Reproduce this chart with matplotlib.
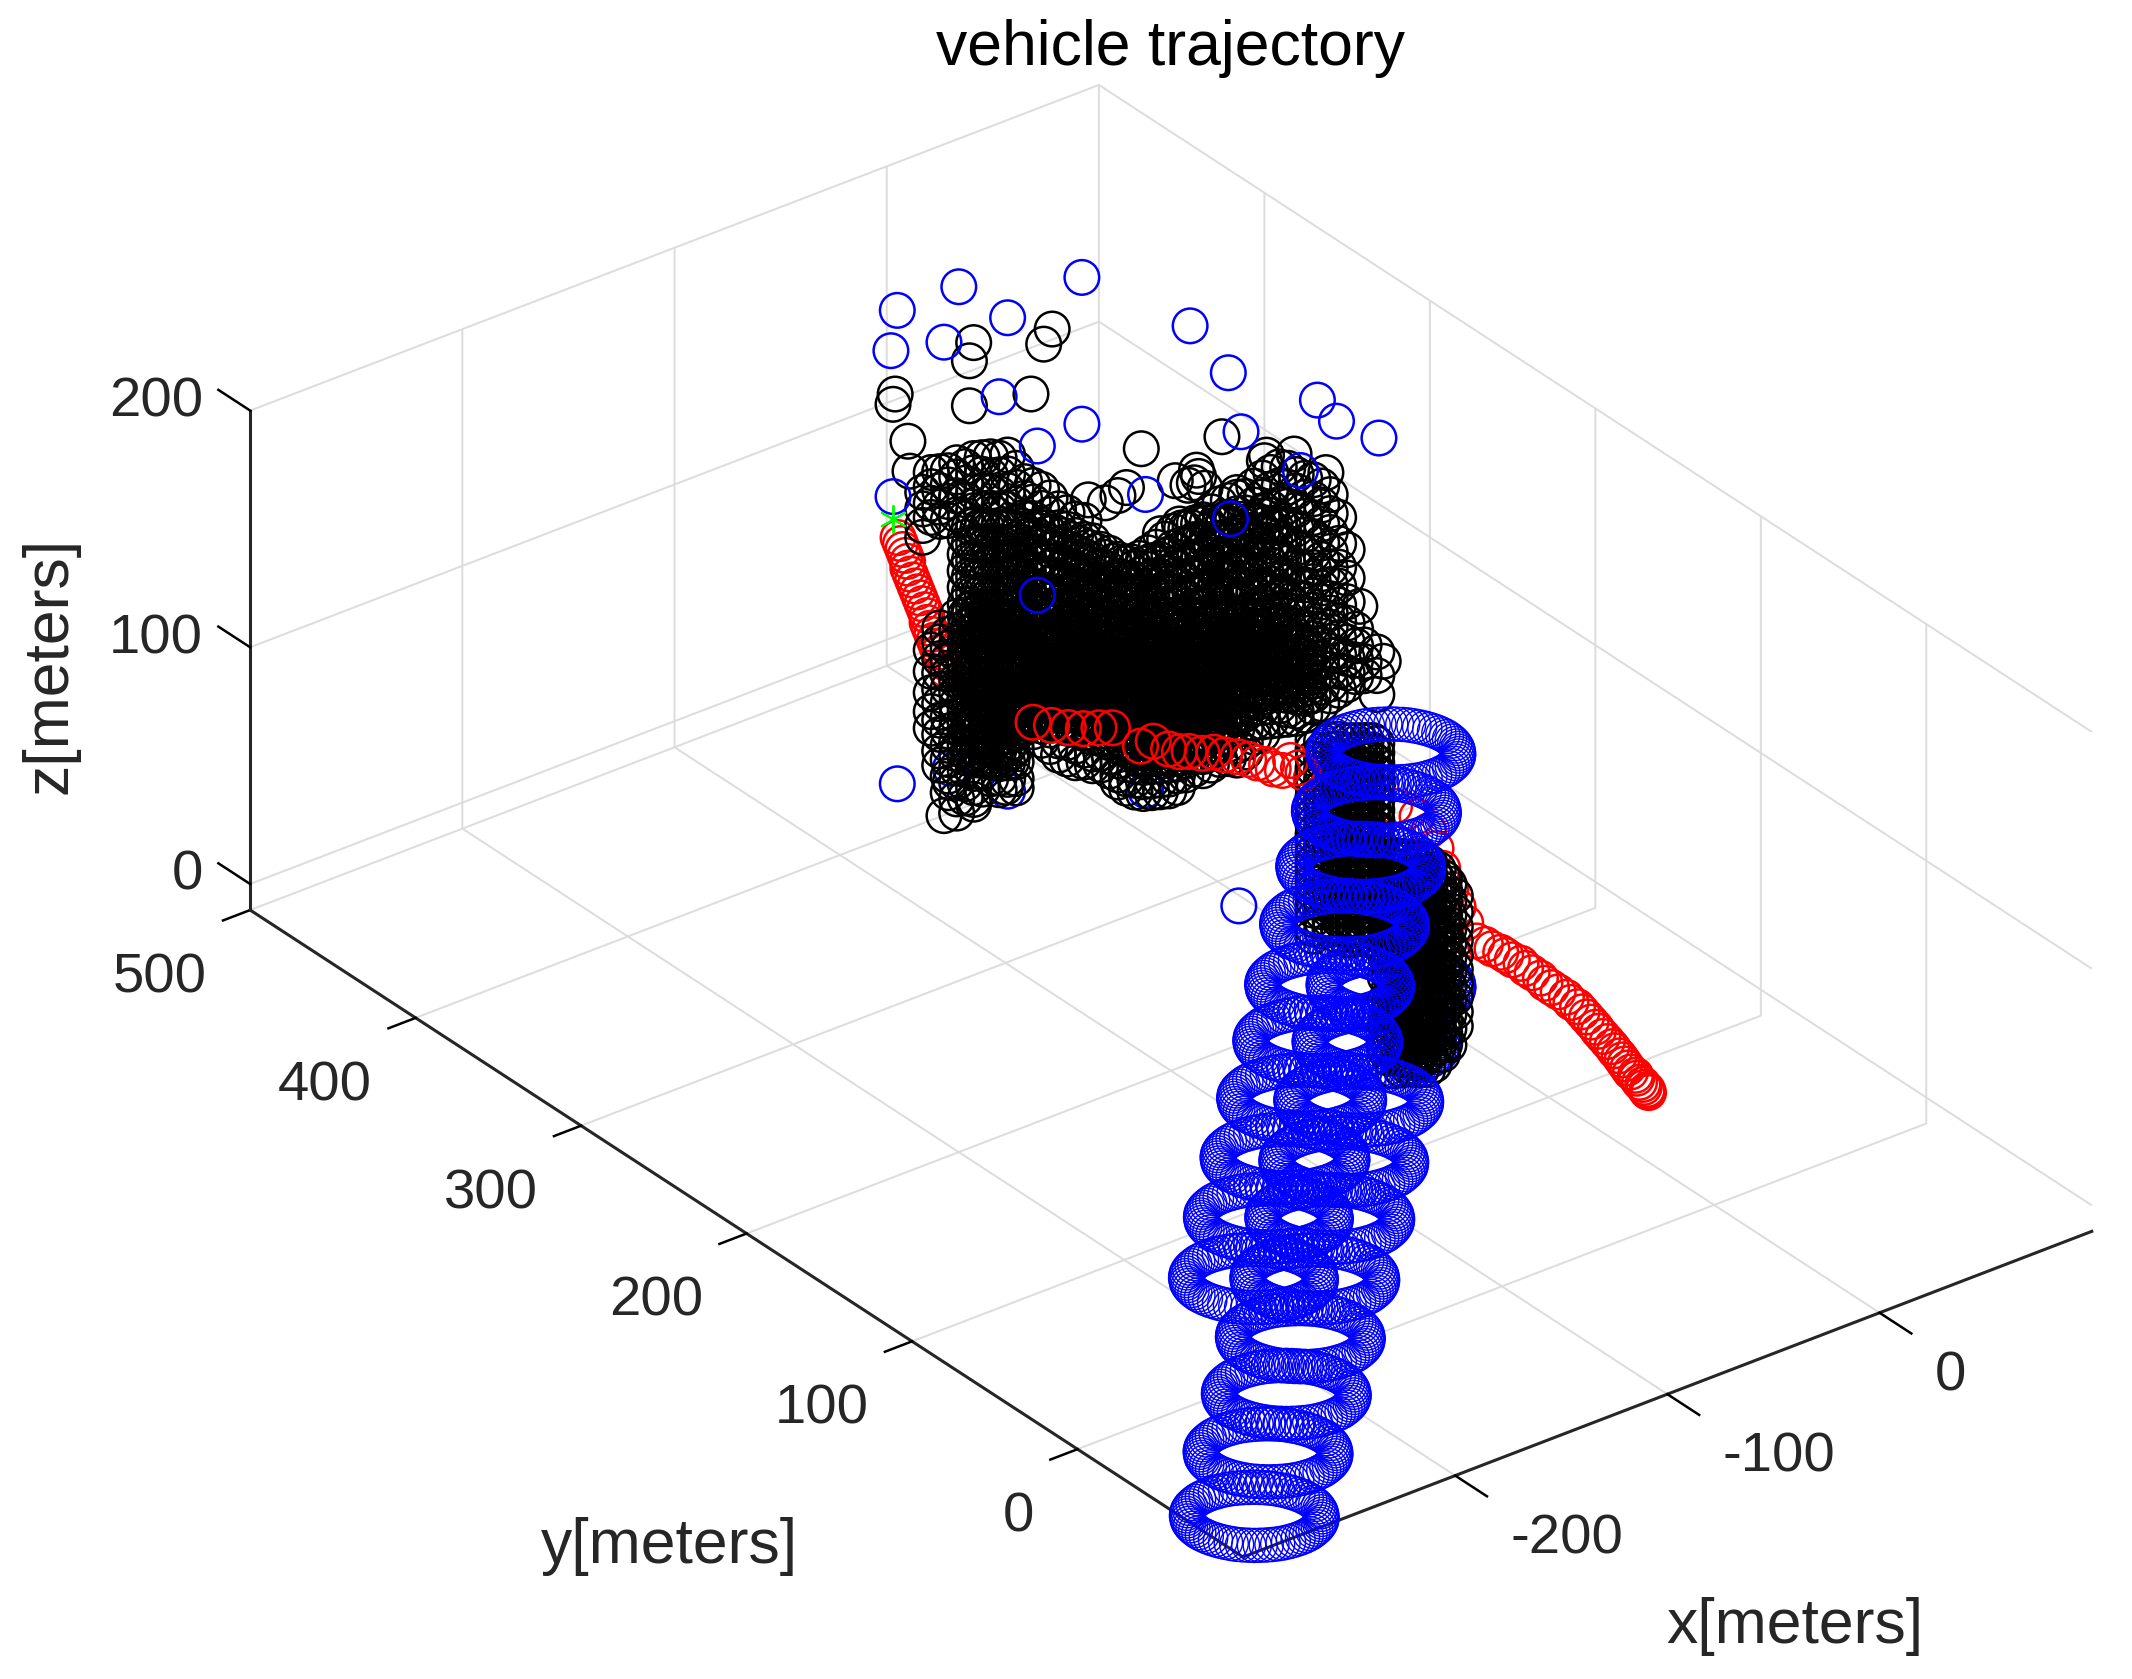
import numpy as np
import matplotlib
matplotlib.use("Agg")
import matplotlib.pyplot as plt
from matplotlib.text import Text
from mpl_toolkits.mplot3d import proj3d

plt.rcParams['font.family'] = ['Liberation Sans', 'DejaVu Sans']

W, H = 2132, 1679

x_ticks = [-200, -100, 0]
x_tick_labels = ['-200', '-100', '0']
y_ticks = [0, 100, 200, 300, 400, 500]
y_tick_labels = ['0', '100', '200', '300', '400', '500']
z_ticks = [0, 100, 200]
z_tick_labels = ['0', '100', '200']

# ring of sensor returns: half the ring, the other half mirrors it through the vehicle position
ring_half_dx = [19.9,18.7,17.3,15.8,14.2,12.4,10.6,8.7,6.7,4.8,2.7,0.6,-1.4,-3.6,-5.6,-7.6,-9.5,-11.4,-13.2,-14.8,
                -16.5,-18.0,-19.2,-20.4,-21.4,-22.2,-22.9,-23.4,-23.7,-23.9,-23.8,-23.6,-23.2,-22.6,-21.9,-20.9]
ring_half_dy = [-15.5,-16.9,-18.3,-19.4,-20.4,-21.2,-21.9,-22.5,-22.8,-23.0,-23.0,-22.8,-22.5,-22.0,-21.3,-20.4,-19.4,-18.2,-17.0,-15.6,
                -14.0,-12.4,-10.7,-8.8,-6.9,-5.0,-3.0,-1.0,1.0,2.9,4.9,6.8,8.8,10.6,12.3,13.9]
ring_dx = ring_half_dx + [-v for v in ring_half_dx]
ring_dy = ring_half_dy + [-v for v in ring_half_dy]

track_a_x = [-290,-257,-225,-195,-164,-132,-102,-70]
track_a_y = [-94,-60,-30,0,31,63,93,125]
track_hidden_x = [-38,-8]
track_hidden_y = [155,185]
track_b_x = [98,67,37,6,-26,-55,-86,-118,-150,-182]
track_b_y = [321,290,261,231,199,169,139,108,77,45]

# vehicle path
path_a_x = [-4,-6,-8,-10,-12,-15,-17,-19,-21,-23,-25,-27,-29,-31,-34,-36,-38,-40,-42,-44,-47,-50]
path_a_y = [488,484,480,476,472,468,464,460,456,452,448,444,440,436,432,428,424,420,416,412,404,400]
path_b_x = [-48,-44,-40,-36,-31,-27,-27,-21,-20,-18,-15,-12,-8,-6,-3,-1,0,2,2,4,11,10,9]
path_b_y = [350,344,339,335,332,329,312,312,304,300,298,294,292,288,284,280,276,273,269,266,270,264,260]
path_c_x = [9,13,17,21,23,23,20,14,7,0,-6,-11,
            -16,-15,-15,-14,-14,-14,-13,-14,-14,-14,-15,-15,-15,-15,-16,-16,-17,-18,-19,-20,-21,-22,-23,-24,-25,
            -26,-27,-28,-29,-30,-30,-31,-32,-32,-33,-33,-34,-34]
path_c_y = [255,243,232,220,214,209,198,186,173,159,147,136,
            123,119,115,111,108,104,100,96,92,87,83,79,75,70,66,62,58,54,50,46,43,39,35,31,28,
            24,21,18,15,12,9,7,4,2,0,-2,-3,-4]
path_z = 50
start_x, start_y, start_z = [3], [500], [50]

# landmark estimates (blue), in front of and behind the point cloud
mark_x = [-83,-25,-112,-60,-90,-115,26,44,86,95,115,-64,-25,-46,5,50,78,-114,-46,45,-112,-146]
mark_y = [350,350,350,350,350,350,350,350,350,350,350,350,350,350,350,350,350,350,350,350,350,100]
mark_z = [246,230,246,225,225,230,192,166,140,128,114,193,168,166,128,139,113,168,103,104,46,120]
mark_back_x = [-60,5,-87]
mark_back_z = [25,3,44]

# point cloud (black)
loose_x = [-76,-78,-39,-43,-113,-114,-78,-49,-107,-106,3,41,-4,-14,106,117,-90,-76,-61,-87,29,30,28,
           19,25,33,48,61,62,75,90,61,64,21,12,-8,-22]
loose_z = [220,213,213,208,211,207,194,189,189,176,148,140,134,131,46,19,25,27,27,38,130,127,125,
           129,125,121,114,123,125,121,108,102,99,110,109,132,135]

cloud_x = [-100,-96,-92,-88,-84,-80,-76,-72,-68,-64,-60,-56,-52,-48,-44,-40,-36,-32,-28,-24,-20,-16,-12,-8,-4,
           0,4,8,12,16,20,24,28,32,36,40,44,48,52,56,60,64,68,72,76,80,84,88,92,96,100,104,108,114]
cloud_z = [
 [165,158,151,146],
 [172,166,159,153,97,88,79,71,64],
 [171,163,156,150,105,99,92,86,79,73,66,60,53,47],
 [170,164,157,149,101,95,90,84,78,72,66,60,54,48,41,34],
 [172,166,158,150,107,101,96,91,85,80,75,70,65,60,54,49,43,37,30,24],
 [169,162,155,147,139,132,125,118,111,106,101,96,91,86,81,76,71,66,61,56,51,46,41,35,29],
 [171,165,157,149,143,135,128,121,114,108,103,98,93,88,84,79,74,69,64,59,54,49,44,38,32,25],
 [170,163,156,148,141,134,126,120,113,107,102,97,92,87,82,77,73,68,63,58,53,48,43,37,30],
 [169,161,154,146,139,131,124,118,111,105,100,96,91,86,81,76,71,66,61,56,51,46,40,33],
 [167,160,152,145,138,130,124,117,110,104,99,94,89,84,79,74,69,64,59,54,49,44,38,32,27],
 [167,159,152,144,137,130,122,116,109,103,98,93,88,83,78,73,68,63,58,53,48,43,37,30],
 [160,152,145,137,130,123,116,109,103,98,93,88,83,78,73,68,63,58,53,48,42,36,29,25],
 [153,146,138,131,124,117,110,103,98,93,88,83,78,73,68,63,58,53,49],
 [150,143,136,128,121,114,107,101,96,91,86,81,76,71,66,61,56,50,46],
 [147,139,132,125,118,111,104,98,93,88,83,78,73,68,63,58,53,47,41],
 [142,135,127,120,113,106,100,95,90,85,80,75,70,65,60,55,50,44,37],
 [136,128,121,114,107,100,95,90,85,80,75,70,65,60,55,50,45,38,32],
 [133,126,118,111,104,98,93,88,83,78,73,68,63,58,53,48,42,36,29],
 [129,122,115,108,101,96,91,86,81,76,71,66,61,56,51,46,40,33,26],
 [127,119,112,105,99,94,89,84,79,74,69,64,59,54,49,43,37,30,25],
 [117,109,103,97,92,87,82,77,72,67,62,57,52,46,40,34,27,22],
 [112,105,99,94,89,84,79,74,69,64,59,54,49,44,38,32,26,21],
 [109,102,96,91,86,81,76,71,66,61,56,51,46,41,35,29,23,17],
 [105,98,93,88,83,78,73,68,63,58,53,48,43,38,32,26,20,14,11],
 [102,95,90,85,80,75,70,65,60,55,50,45,40,35,29,23,17,11,7],
 [99,93,88,83,78,73,68,63,58,53,48,43,38,33,27,21,15,9,4],
 [99,92,86,81,76,71,66,61,56,51,46,41,36,31,25,19,13,7,2],
 [99,92,85,80,75,70,65,60,55,50,45,40,35,30,24,18,12,6,1],
 [98,91,85,79,74,69,64,59,54,49,44,39,34,29,23,17,11,5,0],
 [99,91,84,78,73,68,63,58,53,48,43,38,33,28,22,16,10,4,-1],
 [99,92,84,77,72,67,62,57,52,47,42,37,32,27,21,15,9,4,-1],
 [107,100,92,85,78,72,67,62,57,52,47,42,37,32,27,21,15,9,3],
 [108,101,93,86,79,73,68,63,58,53,48,43,38,33,28,22,16,10,4],
 [108,100,93,86,78,72,67,62,57,52,47,42,37,32,26,20,14,8,2],
 [110,103,95,88,80,73,68,63,58,53,48,43,38,33,27,21,15,9,3],
 [112,104,97,89,82,75,69,64,59,54,49,44,39,34,28,22,16,10,4],
 [112,105,97,89,82,75,69,64,59,54,49,44,39,33,27,21,15,9,3],
 [112,105,97,90,82,74,68,63,58,53,48,43,38,32,26,20,14,7,1],
 [111,104,96,88,81,73,67,62,57,52,47,42,37,31,25,19,13,7,3],
 [114,106,99,91,83,76,69,63,58,53,48,43,38,32,26,20,14,8],
 [116,108,100,93,85,77,70,63,58,53,48,43,37,31,25,19,13,8],
 [117,110,102,94,86,78,70,63,58,53,48,42,36,30,24,18,12],
 [118,110,102,94,86,78,70,63,58,53,47,41,35,29,23,17,11],
 [116,108,100,92,84,76,68,61,56,50,44,38,32,26,20,14,10],
 [112,105,97,89,81,73,66,60,54,48,42,36,30,24,18,12,9],
 [109,101,93,85,77,70,64,58,52,46,40,34,28,22,16,9],
 [107,99,91,83,76,70,64,58,52,46,40,34,28,22,16,11],
 [103,95,87,79,72,66,60,54,48,42,36,30,24,18,11],
 [98,90,82,74,67,60,54,48,42,36,30,24,18,13],
 [87,76,66,58,50,43,36,29,22,14],
 [72,60,50,41,33,26,20,15],
 [37,30,24,17],
 [29,22,16],
 [24,14,6],
]
cloud_y = 350

# darkest part of the cloud
dense_x = [-78,-74,-70,-66,-62,-58,-54,-50,-46,-42,-38,-34,-30,-26,-22,-18,-14,-10,-6,-2,
           2,6,10,14,18,22,26,30,34,38,42,46,50,54,58,62,66,70,74,78,82]
dense_z = [
 [106,102,98,94,90,86,82,78,74,70,66,62,58,54,50,46],
 [103,99,95,91,87,83,79,75,71,67,63,59,55,51,47,43],
 [102,98,94,90,86,82,78,74,70,66,62,58,54,50,46,42],
 [100,96,92,88,84,80,76,72,68,64,60,56,52,48,44,40],
 [99,95,91,87,83,79,75,71,67,63,59,55,51,47,43,39],
 [97,93,89,85,81,77,73,69,65,61,57,53,49,45,41,37],
 [90,86,82,78,74,70,66,62,58,54,50],
 [88,84,80,76,72,68,64,60,56,52],
 [86,82,78,74,70,66,62,58,54,50],
 [84,80,76,72,68,64,60,56,52,48],
 [82,78,74,70,66,62,58,54,50,46],
 [80,76,72,68,64,60,56,52,48,44],
 [79,75,71,67,63,59,55,51,47,43],
 [77,73,69,65,61,57,53,49,45,41],
 [76,72,68,64,60,56,52,48,44,40],
 [74,70,66,62,58,54,50,46,42,38],
 [73,69,65,61,57,53,49,45,41,37],
 [72,68,64,60,56,52,48,44,40,36],
 [71,67,63,59,55,51,47,43,39,35,31,27],
 [70,66,62,58,54,50,46,42,38,34,30,26,22],
 [69,65,61,57,53,49,45,41,37,33,29,25,21,17],
 [68,64,60,56,52,48,44,40,36,32,28,24,20,16],
 [67,63,59,55,51,47,43,39,35,31,27,23,19,15],
 [66,62,58,54,50,46,42,38,34,30,26,22,18,14],
 [64,60,56,52,48,44,40,36,32,28,24,20,16,12],
 [63,59,55,51,47,43,39,35,31,27,23,19,15,11],
 [62,58,54,50,46,42,38,34,30,26,22,18,14,10],
 [61,57,53,49,45,41,37,33,29,25,21,17,13,9],
 [60,56,52,48,44,40,36,32,28,24,20,16,12,8],
 [59,55,51,47,43,39,35,31,27,23,19,15,11],
 [58,54,50,46,42,38,34,30,26,22,18,13],
 [56,52,48,44,40,36,32,28,24,20,16],
 [55,51,47,43,39,35,31,27,23,19],
 [54,50,46,42,38,34,30,27,24],
 [52,48,44,40,36,32,28,25,22],
 [51,47,43,39,35,31,27,23],
 [49,45,41,37,33,29,25],
 [47,43,39,35,31,27],
 [44,40,36,32,28,24,20],
 [40,36,32,28,24,20],
 [36,32,28,24,20,16],
]

# denser upper part of the cloud, between the columns above
mid_x = dense_x[:38]
mid_z = [
 [143,136,129,122,115,108],
 [141,134,127,120,113,106],
 [140,133,126,119,112,105],
 [139,132,125,118,111,104],
 [137,130,123,116,109,102],
 [136,129,122,115,108,101],
 [135,128,121,114,107,100,94],
 [133,126,119,112,105,98,92],
 [132,125,118,111,104,97,90],
 [130,123,116,109,102,95,88],
 [127,120,113,106,99,92,86],
 [124,117,110,103,96,89,84],
 [121,114,107,100,93,86,82],
 [118,111,104,97,90,84,80],
 [115,108,101,94,87,80],
 [112,105,98,91,84,78],
 [108,101,94,87,80,76],
 [105,98,91,84,77],
 [103,96,89,82,75],
 [102,95,88,81,74],
 [102,95,88,81,74],
 [103,96,89,82,75],
 [104,97,90,83,76],
 [106,99,92,85,78,71],
 [108,101,94,87,80,72],
 [108,101,94,87,80,70],
 [107,100,93,86,79,69],
 [107,100,93,86,79,68],
 [106,99,92,85,78,67],
 [105,98,91,84,77,66],
 [104,97,90,83,76,65],
 [103,96,89,82,75,63],
 [102,95,88,81,74,62],
 [100,93,86,79,72,60],
 [98,91,84,77,70,58],
 [96,89,82,75,68,56],
 [94,87,80,73,66,54],
 [92,85,78,71,64,52],
]

# second cloud, next to the lower stretch of the path
stack_x = [-72,-68,-64,-60,-56,-53,-50,-47,-44,-42,-38,-36,-34,-32,-30,-29,-27,-26,-24,-23,-21,-20,-18,-17,-15,-13,-11,-10,-8,-5]
stack_z = [
 [142,138,134,130,126,122,118,114,110,106,102,98,94,90,86,82,78,74,70,66,62,59],
 [140,136,132,128,124,120,116,112,108,104,100,96,92,88,84,80,76,72,68,64,60],
 [139,135,131,127,123,119,115,111,107,103,99,95,91,87,83,79,75,71,67,63,59,55],
 [138,134,130,126,122,118,114,110,106,102,98,94,90,86,82,78,74,70,66,62,58,55],
 [136,132,128,124,120,116,112,108,104,100,96,92,88,84,80,76,72,68,64,60,56,52],
 [135,131,127,123,119,115,111,107,103,99,95,91,87,83,79,75,71,67,63,59,55,51],
 [134,130,126,122,118,114,110,106,102,98,94,90,86,82,78,74,70,66,62,58,54,51],
 [133,129,125,121,117,113,109,105,101,97,93,89,85,81,77,73,69,65,61,57,53,49],
 [132,128,124,120,116,112,108,104,100,96,92,88,84,80,76,72,68,64,60,56,52,48],
 [130,126,122,118,114,110,106,102,98,94,90,86,82,78,74,70,66,62,58,54,50,46],
 [80,70,60,50,40,30,20,10,0],
 [80,75,70,65,60,55,50,45,40,35,30,25,20,15,10,5,0,-5],
 [80,70,60,50,40,30,20,12,4,-4,-11],
 [79,74,69,64,59,54,49,44,39,34,29,24,19,14,9,4,-1,-6],
 [78,70,60,50,42,34,26,18,10,2,-6,-12],
 [77,72,67,62,57,52,47,42,37,32,27,22,17,12,7,2,-3,-8],
 [77,69,61,53,45,37,30,23,16,9,2,-5,-12],
 [76,71,66,61,56,51,46,41,36,31,26,21,16,11,6,1,-4,-9],
 [74,66,59,52,45,38,31,24,17,10,3,-4,-11,-14],
 [75,70,65,60,55,50,45,40,35,30,25,20,15,10,5,0,-5,-10],
 [74,67,60,53,46,40,34,28,22,16,10,4,-2,-8,-15],
 [73,68,63,58,53,48,43,38,33,28,23,18,13,8,3,-2,-7,-11],
 [71,64,57,50,44,38,32,26,20,14,8,2,-4,-10,-16],
 [71,66,61,56,51,46,41,36,31,26,21,16,11,6,1,-4,-9],
 [66,59,52,46,40,34,28,22,16,10,4,-2,-8,-15],
 [67,62,57,52,47,42,37,32,27,22,17,12,7,2,-3,-8],
 [63,56,49,43,37,31,25,19,13,7,1,-5,-12],
 [62,57,52,47,42,37,32,27,22,17,12,7,2,-3,-8],
 [59,52,46,40,34,28,22,16,10,4,-2,-9],
 [53,46,40,34,28,22,16,10,4,-2],
]
stack_y = 150


def columns(xs, zs):
    out_x = np.concatenate([[x] * len(z) for x, z in zip(xs, zs)])
    return out_x, np.concatenate(zs)


def rings(xs, ys):
    out_x = np.add.outer(np.array(xs, float), ring_dx).ravel()
    out_y = np.add.outer(np.array(ys, float), ring_dy).ravel()
    return out_x, out_y


fig = plt.figure(figsize=(W / 100, H / 100), dpi=100, facecolor='white')
ax = fig.add_axes([0, 0, 1, 1], projection='3d', proj_type='ortho', computed_zorder=False)
ax.view_init(elev=30, azim=-127.5)
ax.set_box_aspect((786.5, 1199, 424))
ax.set_xlim(-300, 100, view_margin=0)
ax.set_ylim(-100, 500, view_margin=0)
ax.set_zlim(-11, 200, view_margin=0)
ax.patch.set_alpha(0)

marker = dict(marker='o', s=620, facecolors='none', linewidths=1.8, depthshade=False)
ring_marker = dict(marker='o', s=600, facecolors='none', linewidths=1.0, depthshade=False)

rx, ry = rings(track_hidden_x, track_hidden_y)
ax.scatter(rx, ry, 0, edgecolors='#0000ff', zorder=1, **ring_marker)
ax.scatter(path_a_x, path_a_y, path_z, edgecolors='#ff0000', zorder=2, **marker)
ax.scatter(path_c_x, path_c_y, path_z, edgecolors='#ff0000', zorder=2, **marker)
ax.scatter(mark_back_x, [350] * len(mark_back_x), mark_back_z, edgecolors='#0000ff', zorder=2, **marker)

cx, cz = columns(cloud_x, cloud_z)
ax.scatter(cx, cloud_y, cz, edgecolors='black', zorder=3, **marker)
dx_, dz_ = columns(dense_x, dense_z)
ax.scatter(dx_, cloud_y, dz_, edgecolors='black', zorder=3, **marker)
mx_, mz_ = columns(mid_x, mid_z)
ax.scatter(mx_, cloud_y, mz_, edgecolors='black', zorder=3, **marker)
sx, sz = columns(stack_x, stack_z)
ax.scatter(sx, stack_y, sz, edgecolors='black', zorder=3, **marker)
ax.scatter(loose_x, cloud_y, loose_z, edgecolors='black', zorder=3, **marker)

ax.scatter(path_b_x, path_b_y, path_z, edgecolors='#ff0000', zorder=4, **marker)
ax.scatter(mark_x, mark_y, mark_z, edgecolors='#0000ff', zorder=4, **marker)
rx, ry = rings(track_a_x + track_b_x, track_a_y + track_b_y)
ax.scatter(rx, ry, 0, edgecolors='#0000ff', zorder=5, **ring_marker)
ax.scatter(start_x, start_y, start_z, marker=(6, 2, 0), s=380, c='#00ff00', linewidths=1.4,
           depthshade=False, zorder=6)

ax.set_xticks(x_ticks)
ax.set_yticks(y_ticks)
ax.set_zticks(z_ticks)
ax.set_xticklabels(x_tick_labels, ha='left', va='center')
ax.set_yticklabels(y_tick_labels, ha='right', va='top')
ax.set_zticklabels(z_tick_labels, ha='right', va='center')
ax.tick_params(axis='both', labelsize=40.5, labelcolor='#262626')
ax.tick_params(axis='x', pad=33)
ax.tick_params(axis='y', pad=30)
ax.tick_params(axis='z', pad=11)
ax.zaxis._get_tickdir = lambda position: 1

for axis in (ax.xaxis, ax.yaxis, ax.zaxis):
    axis.set_pane_color((1, 1, 1, 0))
    axis.pane.set_edgecolor('#dcdcdc')
    axis.pane.set_linewidth(1.4)
    axis.line.set_color('#262626')
    axis.line.set_linewidth(2.2)
    info = axis._axinfo
    info['grid'].update(color='#dcdcdc', linewidth=1.4)
    info['tick'].update(color='#262626', inward_factor=0.4, outward_factor=0.0, linewidth={True: 1.8, False: 1.0})
ax.zaxis._axinfo['tick'].update(inward_factor=0.0, outward_factor=0.4)

ax.set_xlabel('x[meters]', fontsize=45, color='#262626')
ax.set_ylabel('y[meters]', fontsize=45, color='#262626')
ax.set_zlabel('z[meters]', fontsize=45, color='#262626')
ax.set_title('vehicle trajectory', fontsize=45, color='black')
for axis in (ax.xaxis, ax.yaxis, ax.zaxis):
    axis.set_rotate_label(False)


def pin(artist, px, py, rotation=0):
    target = (px / W, 1 - py / H)

    def draw(renderer):
        artist.set_transform(fig.transFigure)
        Text.set_position(artist, target)
        artist.set_rotation(rotation)
        artist.set_ha('center')
        artist.set_va('center')
        Text.draw(artist, renderer)

    artist.draw = draw


pin(ax.title, 1170, 48)
pin(ax.xaxis.label, 1795, 1626)
pin(ax.yaxis.label, 669, 1546)
pin(ax.zaxis.label, 50, 665, rotation=90)


# place the 3-D box on the page: corner (xmin, ymin, zmin) and corner (xmax, ymin, zmin)
def corner_px(x, y, z):
    ax.apply_aspect()
    ax.M = ax.get_proj()
    px, py, _ = proj3d.proj_transform(x, y, z, ax.M)
    return ax.transData.transform((px, py))


want_f = np.array([1243.0, H - 1557.0])
want_r = np.array([2092.0, H - 1232.0])
p0 = corner_px(-300, -100, -11)
p1 = corner_px(100, -100, -11)
scale = np.linalg.norm(want_r - want_f) / np.linalg.norm(p1 - p0)
ax.set_position([0, 0, scale, scale])
p0 = corner_px(-300, -100, -11)
shift = (want_f - p0) / [W, H]
ax.set_position([shift[0], shift[1], scale, scale])

fig.savefig('out.png', dpi=100, facecolor='white')
